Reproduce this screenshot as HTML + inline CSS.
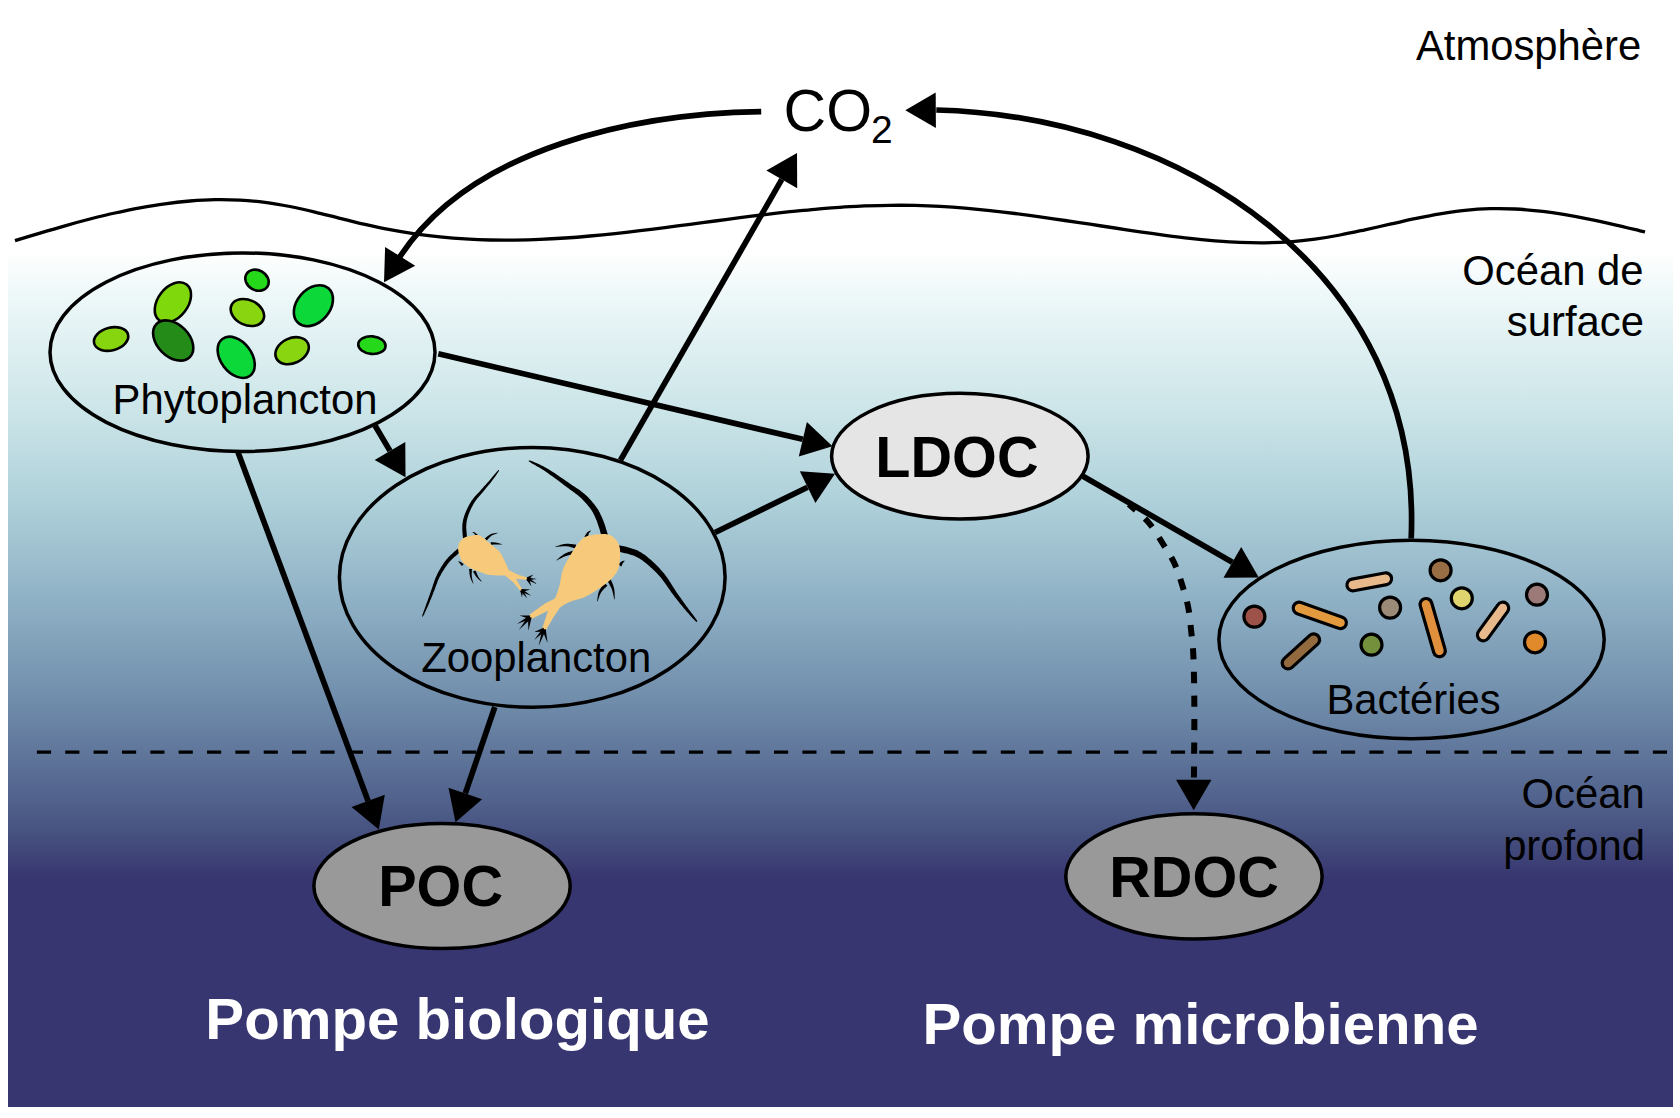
<!DOCTYPE html>
<html><head><meta charset="utf-8"><style>
html,body{margin:0;padding:0;background:#fff;}
svg{display:block;font-family:"Liberation Sans", sans-serif;}
</style></head><body>
<svg width="1680" height="1118" viewBox="0 0 1680 1118">
<defs><linearGradient id="g" x1="0" y1="250" x2="0" y2="878" gradientUnits="userSpaceOnUse"><stop offset="0.0000" stop-color="#ffffff"/><stop offset="0.0796" stop-color="#ecf7f8"/><stop offset="0.2389" stop-color="#cfe7ea"/><stop offset="0.3981" stop-color="#afd1da"/><stop offset="0.5573" stop-color="#8fb1c5"/><stop offset="0.7166" stop-color="#708dab"/><stop offset="0.8758" stop-color="#51628c"/><stop offset="0.9395" stop-color="#444e7d"/><stop offset="1.0000" stop-color="#383670"/></linearGradient></defs>
<rect x="8" y="240" width="1665" height="867" fill="url(#g)"/>
<path d="M15.0,240.7 C19.2,239.4 31.7,235.6 40.0,233.1 C48.3,230.6 56.7,228.1 65.0,225.8 C73.3,223.4 81.7,221.1 90.0,219.0 C98.3,216.9 106.7,214.8 115.0,213.0 C123.3,211.1 131.7,209.3 140.0,207.8 C148.3,206.3 156.7,204.9 165.0,203.8 C173.3,202.6 181.7,201.7 190.0,201.0 C198.3,200.4 206.7,199.9 215.0,199.7 C223.3,199.6 231.7,199.7 240.0,200.1 C248.3,200.5 256.7,201.3 265.0,202.3 C273.3,203.4 281.7,204.9 290.0,206.5 C298.3,208.1 306.7,210.1 315.0,212.1 C323.3,214.0 331.7,216.3 340.0,218.3 C348.3,220.4 356.7,222.5 365.0,224.4 C373.3,226.3 381.7,228.1 390.0,229.6 C398.3,231.2 406.7,232.6 415.0,233.8 C423.3,235.0 431.7,236.0 440.0,236.9 C448.3,237.7 456.7,238.4 465.0,238.9 C473.3,239.4 481.7,239.8 490.0,240.0 C498.3,240.2 506.7,240.2 515.0,240.1 C523.3,240.0 531.7,239.8 540.0,239.4 C548.3,239.1 556.7,238.6 565.0,238.0 C573.3,237.5 581.7,236.8 590.0,236.0 C598.3,235.3 606.7,234.5 615.0,233.6 C623.3,232.7 631.7,231.7 640.0,230.7 C648.3,229.7 656.7,228.7 665.0,227.6 C673.3,226.5 681.7,225.4 690.0,224.3 C698.3,223.2 706.7,222.1 715.0,221.0 C723.3,219.9 731.7,218.8 740.0,217.7 C748.3,216.6 756.7,215.6 765.0,214.6 C773.3,213.6 781.7,212.6 790.0,211.7 C798.3,210.9 806.7,210.0 815.0,209.3 C823.3,208.5 831.7,207.9 840.0,207.3 C848.3,206.7 856.7,206.3 865.0,205.9 C873.3,205.6 881.7,205.3 890.0,205.3 C898.3,205.2 906.7,205.2 915.0,205.4 C923.3,205.6 931.7,205.9 940.0,206.4 C948.3,206.9 956.7,207.5 965.0,208.2 C973.3,208.9 981.7,209.7 990.0,210.6 C998.3,211.5 1006.7,212.5 1015.0,213.5 C1023.3,214.6 1031.7,215.7 1040.0,216.8 C1048.3,218.0 1056.7,219.2 1065.0,220.5 C1073.3,221.7 1081.7,223.0 1090.0,224.2 C1098.3,225.5 1106.7,226.8 1115.0,228.0 C1123.3,229.3 1131.7,230.6 1140.0,231.8 C1148.3,233.0 1156.7,234.2 1165.0,235.3 C1173.3,236.4 1181.7,237.5 1190.0,238.4 C1198.3,239.4 1206.7,240.2 1215.0,240.9 C1223.3,241.5 1231.7,242.1 1240.0,242.4 C1248.3,242.7 1256.7,242.9 1265.0,242.8 C1273.3,242.7 1281.7,242.4 1290.0,241.8 C1298.3,241.2 1306.7,240.3 1315.0,239.2 C1323.3,238.0 1331.7,236.6 1340.0,235.0 C1348.3,233.5 1356.7,231.6 1365.0,229.8 C1373.3,228.0 1381.7,226.1 1390.0,224.2 C1398.3,222.4 1406.7,220.4 1415.0,218.7 C1423.3,217.0 1431.7,215.3 1440.0,213.9 C1448.3,212.6 1456.7,211.3 1465.0,210.4 C1473.3,209.5 1481.7,208.9 1490.0,208.7 C1498.3,208.5 1506.7,208.6 1515.0,209.0 C1523.3,209.4 1531.7,210.2 1540.0,211.1 C1548.3,212.0 1556.7,213.3 1565.0,214.6 C1573.3,216.0 1581.7,217.6 1590.0,219.3 C1598.3,221.0 1606.7,222.9 1615.0,224.8 C1623.3,226.7 1635.0,229.6 1640.0,230.8 C1645.0,232.0 1644.2,231.8 1645.0,232.0" stroke="#000" stroke-width="3.3" fill="none"/>
<line x1="36.9" y1="752.1" x2="1667.2" y2="752.1" stroke="#000" stroke-width="3.4" stroke-dasharray="14.17 14.18"/>
<ellipse cx="242.5" cy="352.15" rx="192.5" ry="99.25" stroke="#000" stroke-width="3.5" fill="none"/>
<ellipse cx="532.25" cy="577.35" rx="192.85" ry="129.95" stroke="#000" stroke-width="3.5" fill="none"/>
<ellipse cx="1411.55" cy="639.5" rx="192.65" ry="99.3" stroke="#000" stroke-width="3.5" fill="none"/>
<ellipse cx="959.85" cy="456.15" rx="128.25" ry="62.85" stroke="#000" stroke-width="3.5" fill="#e5e5e5"/>
<ellipse cx="442.05" cy="886.1" rx="128.15" ry="62.5" stroke="#000" stroke-width="3.5" fill="#999999"/>
<ellipse cx="1193.95" cy="876.4" rx="128.15" ry="62.6" stroke="#000" stroke-width="3.5" fill="#999999"/>
<ellipse cx="0" cy="0" rx="17.5" ry="11.3" transform="translate(111.1,339) rotate(-15)" fill="#86d50f" stroke="#000" stroke-width="2.6"/>
<ellipse cx="0" cy="0" rx="15" ry="22.5" transform="translate(172.9,302.4) rotate(37.5)" fill="#7fd80c" stroke="#000" stroke-width="2.6"/>
<ellipse cx="0" cy="0" rx="23.5" ry="16" transform="translate(173.2,340.5) rotate(45)" fill="#248b18" stroke="#000" stroke-width="2.6"/>
<ellipse cx="0" cy="0" rx="12.2" ry="10" transform="translate(257,280.2) rotate(30)" fill="#25d81a" stroke="#000" stroke-width="2.6"/>
<ellipse cx="0" cy="0" rx="17.5" ry="12.5" transform="translate(247.4,312.5) rotate(25)" fill="#89d510" stroke="#000" stroke-width="2.6"/>
<ellipse cx="0" cy="0" rx="16.5" ry="23" transform="translate(313.4,305.7) rotate(41)" fill="#0cd83a" stroke="#000" stroke-width="2.6"/>
<ellipse cx="0" cy="0" rx="15.5" ry="23" transform="translate(236.2,357.3) rotate(-37)" fill="#0cd83a" stroke="#000" stroke-width="2.6"/>
<ellipse cx="0" cy="0" rx="17.5" ry="12.5" transform="translate(292.1,350.7) rotate(-25)" fill="#89d510" stroke="#000" stroke-width="2.6"/>
<ellipse cx="0" cy="0" rx="13.7" ry="8.8" transform="translate(371.9,345.1) rotate(5)" fill="#25d81a" stroke="#000" stroke-width="2.6"/>
<path d="M1288.1,663 L1313.7,639.8" stroke="#000" stroke-width="15" stroke-linecap="round"/>
<path d="M1288.1,663 L1313.7,639.8" stroke="#926a3e" stroke-width="8.6" stroke-linecap="round"/>
<path d="M1299.1,608.1 L1340.5,622.7" stroke="#000" stroke-width="15" stroke-linecap="round"/>
<path d="M1299.1,608.1 L1340.5,622.7" stroke="#e39a3e" stroke-width="8.6" stroke-linecap="round"/>
<path d="M1352.8,584.9 L1385.7,578.8" stroke="#000" stroke-width="15" stroke-linecap="round"/>
<path d="M1352.8,584.9 L1385.7,578.8" stroke="#e8b98a" stroke-width="8.6" stroke-linecap="round"/>
<path d="M1426,604.4 L1439.4,650.8" stroke="#000" stroke-width="15" stroke-linecap="round"/>
<path d="M1426,604.4 L1439.4,650.8" stroke="#e0903c" stroke-width="8.6" stroke-linecap="round"/>
<path d="M1502.8,608.1 L1483.3,634.9" stroke="#000" stroke-width="15" stroke-linecap="round"/>
<path d="M1502.8,608.1 L1483.3,634.9" stroke="#e8b98a" stroke-width="8.6" stroke-linecap="round"/>
<circle cx="1254.4" cy="616.6" r="10.5" fill="#9c5248" stroke="#000" stroke-width="3.2"/>
<circle cx="1371.5" cy="644.7" r="10.5" fill="#74903c" stroke="#000" stroke-width="3.2"/>
<circle cx="1390.1" cy="607.6" r="10.5" fill="#9c8a78" stroke="#000" stroke-width="3.2"/>
<circle cx="1440.6" cy="570.3" r="10.5" fill="#9a6e44" stroke="#000" stroke-width="3.2"/>
<circle cx="1461.8" cy="598.3" r="10.5" fill="#e0d46e" stroke="#000" stroke-width="3.2"/>
<circle cx="1537" cy="594.7" r="10.5" fill="#9c7a78" stroke="#000" stroke-width="3.2"/>
<circle cx="1535" cy="642.3" r="10.5" fill="#e08a2c" stroke="#000" stroke-width="3.2"/>
<path d="M438.3,353.8 L802.8,439.3" stroke="#000" stroke-width="5.7" fill="none"/><path d="M832.5,446.3 L798.8,456.6 L806.9,422.1Z" fill="#000"/>
<path d="M375.0,425.5 L390.0,450.9" stroke="#000" stroke-width="5.7" fill="none"/><path d="M405.5,477.2 L374.7,459.9 L405.3,441.9Z" fill="#000"/>
<path d="M620.5,460.2 L781.8,179.4" stroke="#000" stroke-width="5.7" fill="none"/><path d="M797.0,153.0 L797.2,188.3 L766.4,170.6Z" fill="#000"/>
<path d="M715.0,532.5 L807.6,487.2" stroke="#000" stroke-width="5.7" fill="none"/><path d="M835.0,473.8 L815.4,503.1 L799.8,471.3Z" fill="#000"/>
<path d="M494.8,707.0 L465.3,793.4" stroke="#000" stroke-width="5.7" fill="none"/><path d="M455.5,822.3 L448.5,787.7 L482.1,799.2Z" fill="#000"/>
<path d="M238.0,452.2 L368.1,800.9" stroke="#000" stroke-width="5.7" fill="none"/><path d="M378.8,829.5 L351.5,807.1 L384.8,794.7Z" fill="#000"/>
<path d="M1083.0,476.2 L1232.4,562.3" stroke="#000" stroke-width="5.7" fill="none"/><path d="M1258.8,577.5 L1223.5,577.7 L1241.2,546.9Z" fill="#000"/>
<path d="M761.2,111.6 C637.9,113.4 472.3,146.3 399.8,256.9" stroke="#000" stroke-width="5.7" fill="none"/>
<path d="M384.0,282.2 L385.1,246.9 L415.2,265.7Z" fill="#000"/>
<path d="M1411.2,538.5 C1422.8,269.3 1178.6,116.1 936.3,110" stroke="#000" stroke-width="5.7" fill="none"/>
<path d="M905.3,110.3 L935.7,92.4 L935.9,127.9Z" fill="#000"/>
<path d="M1193.9,780.0 C1194.0,772.1 1194.2,746.1 1194.3,732.6 C1194.4,719.1 1194.4,711.8 1194.3,699.1 C1194.2,686.4 1193.9,667.6 1193.4,656.5 C1192.9,645.4 1192.2,640.3 1191.3,632.2 C1190.4,624.1 1189.8,615.7 1188.3,607.8 C1186.8,599.9 1184.5,592.4 1182.2,585.0 C1179.9,577.6 1177.6,570.3 1174.6,563.7 C1171.5,557.1 1168.2,552.2 1163.9,545.4 C1159.6,538.5 1154.5,529.5 1148.7,522.6 C1142.9,515.8 1132.2,507.4 1128.9,504.3" stroke="#000" stroke-width="6" fill="none" stroke-dasharray="11.3 12.25" stroke-dashoffset="20.95"/>
<path d="M1193.7,810.2 L1176.0,779.7 L1211.5,779.7Z" fill="#000"/>
<path d="M467.2,538.3 L467.1,537.7 L467.1,536.9 L466.9,535.9 L466.8,534.9 L466.7,533.8 L466.6,532.6 L466.5,531.4 L466.4,530.1 L466.3,528.9 L466.2,527.8 L466.2,526.7 L466.3,525.7 L466.3,524.8 L466.4,523.9 L466.5,523.0 L466.6,522.1 L466.7,521.2 L466.9,520.4 L467.1,519.5 L467.3,518.7 L467.5,517.8 L467.8,516.9 L468.1,516.0 L468.4,515.0 L468.8,514.0 L469.2,513.0 L469.6,511.9 L470.1,510.8 L470.6,509.7 L471.1,508.6 L471.6,507.5 L472.2,506.4 L472.8,505.4 L473.3,504.3 L473.9,503.3 L474.5,502.4 L475.0,501.5 L475.6,500.7 L476.2,499.9 L476.8,499.1 L477.5,498.3 L478.1,497.6 L478.8,496.8 L479.4,496.0 L480.1,495.3 L480.8,494.4 L481.6,493.6 L482.3,492.7 L483.0,491.8 L483.8,490.9 L484.6,490.0 L485.4,489.0 L486.2,488.1 L487.0,487.1 L487.8,486.1 L488.6,485.1 L489.4,484.2 L490.2,483.2 L490.9,482.2 L491.7,481.3 L492.4,480.3 L493.1,479.3 L493.9,478.3 L494.7,477.2 L495.4,476.2 L496.1,475.2 L496.8,474.2 L497.4,473.2 L498.0,472.4 L498.5,471.6 L498.9,470.9 L499.1,470.3 L498.7,469.9 L498.1,470.3 L497.6,470.9 L496.9,471.6 L496.3,472.4 L495.5,473.2 L494.8,474.1 L494.0,475.1 L493.2,476.1 L492.3,477.1 L491.5,478.0 L490.7,479.0 L489.9,479.9 L489.2,480.8 L488.4,481.7 L487.6,482.6 L486.7,483.5 L485.9,484.5 L485.0,485.4 L484.2,486.3 L483.3,487.3 L482.5,488.2 L481.7,489.1 L480.9,490.0 L480.1,490.9 L479.4,491.7 L478.7,492.5 L477.9,493.3 L477.2,494.0 L476.5,494.8 L475.8,495.5 L475.1,496.3 L474.4,497.1 L473.7,497.9 L473.1,498.8 L472.4,499.7 L471.7,500.6 L471.1,501.6 L470.5,502.6 L469.8,503.7 L469.2,504.8 L468.6,505.9 L468.0,507.1 L467.4,508.2 L466.9,509.4 L466.3,510.5 L465.9,511.6 L465.4,512.7 L465.0,513.8 L464.6,514.8 L464.3,515.8 L464.0,516.8 L463.7,517.7 L463.4,518.7 L463.2,519.6 L463.0,520.6 L462.8,521.5 L462.7,522.5 L462.5,523.4 L462.4,524.4 L462.3,525.5 L462.3,526.6 L462.3,527.8 L462.3,529.1 L462.3,530.4 L462.4,531.7 L462.5,532.9 L462.6,534.1 L462.7,535.3 L462.8,536.4 L462.9,537.3 L463.0,538.1 L463.0,538.7Z" fill="#000"/>
<path d="M458.1,548.4 L457.7,548.8 L457.2,549.2 L456.5,549.8 L455.8,550.4 L455.0,551.1 L454.1,551.8 L453.3,552.6 L452.4,553.4 L451.5,554.2 L450.7,554.9 L449.9,555.7 L449.2,556.4 L448.5,557.1 L447.9,557.8 L447.4,558.4 L446.8,559.1 L446.2,559.8 L445.7,560.4 L445.2,561.1 L444.7,561.8 L444.1,562.5 L443.6,563.3 L443.1,564.1 L442.6,564.9 L442.0,565.7 L441.5,566.6 L440.9,567.5 L440.4,568.4 L439.8,569.4 L439.3,570.3 L438.7,571.3 L438.2,572.3 L437.7,573.3 L437.2,574.3 L436.7,575.4 L436.2,576.4 L435.7,577.5 L435.3,578.5 L434.9,579.6 L434.5,580.7 L434.1,581.8 L433.7,582.9 L433.4,584.0 L433.0,585.1 L432.6,586.2 L432.3,587.3 L431.9,588.4 L431.5,589.5 L431.2,590.6 L430.8,591.6 L430.4,592.7 L430.0,593.8 L429.6,594.9 L429.3,595.9 L428.9,597.0 L428.5,598.1 L428.1,599.2 L427.7,600.3 L427.3,601.4 L426.9,602.5 L426.5,603.6 L426.0,604.9 L425.6,606.2 L425.1,607.5 L424.6,608.9 L424.1,610.2 L423.6,611.5 L423.2,612.7 L422.8,613.9 L422.4,614.9 L422.2,615.7 L422.1,616.5 L422.7,616.7 L423.2,616.1 L423.6,615.3 L424.1,614.4 L424.6,613.3 L425.1,612.1 L425.7,610.9 L426.3,609.6 L426.9,608.3 L427.5,607.0 L428.0,605.7 L428.6,604.5 L429.1,603.3 L429.5,602.2 L430.0,601.1 L430.4,600.1 L430.9,599.0 L431.3,597.9 L431.7,596.9 L432.2,595.8 L432.6,594.7 L433.0,593.7 L433.4,592.6 L433.8,591.6 L434.3,590.5 L434.7,589.4 L435.1,588.3 L435.5,587.2 L435.9,586.1 L436.3,585.0 L436.7,584.0 L437.1,582.9 L437.5,581.8 L437.9,580.8 L438.3,579.8 L438.8,578.8 L439.2,577.8 L439.7,576.8 L440.2,575.9 L440.7,574.9 L441.2,574.0 L441.8,573.0 L442.3,572.1 L442.9,571.2 L443.4,570.3 L444.0,569.4 L444.5,568.5 L445.1,567.7 L445.6,566.9 L446.2,566.2 L446.7,565.4 L447.2,564.8 L447.7,564.1 L448.2,563.5 L448.7,562.8 L449.2,562.2 L449.7,561.6 L450.3,561.0 L450.8,560.4 L451.4,559.8 L452.0,559.2 L452.7,558.5 L453.4,557.9 L454.2,557.1 L455.0,556.4 L455.9,555.7 L456.8,555.0 L457.6,554.3 L458.4,553.6 L459.2,553.0 L459.8,552.4 L460.4,552.0 L460.9,551.6Z" fill="#000"/>
<path d="M608.0,535.0 L607.7,534.4 L607.5,533.5 L607.2,532.5 L606.8,531.3 L606.4,530.0 L606.0,528.7 L605.6,527.3 L605.1,525.8 L604.7,524.4 L604.2,523.0 L603.7,521.7 L603.2,520.5 L602.7,519.3 L602.3,518.2 L601.8,517.1 L601.3,516.1 L600.8,515.0 L600.3,513.9 L599.8,512.8 L599.2,511.7 L598.6,510.6 L598.0,509.6 L597.3,508.5 L596.5,507.4 L595.7,506.3 L594.9,505.2 L594.1,504.1 L593.2,503.0 L592.3,501.9 L591.3,500.8 L590.4,499.7 L589.4,498.7 L588.3,497.6 L587.3,496.6 L586.2,495.5 L585.1,494.5 L584.0,493.6 L582.9,492.7 L581.8,491.8 L580.7,490.9 L579.6,490.1 L578.4,489.3 L577.2,488.5 L576.0,487.7 L574.7,486.8 L573.3,485.9 L571.9,484.9 L570.4,483.9 L568.7,482.7 L566.9,481.5 L565.0,480.2 L563.0,478.8 L560.9,477.4 L558.8,476.0 L556.6,474.5 L554.5,473.1 L552.4,471.8 L550.4,470.5 L548.5,469.3 L546.7,468.3 L544.9,467.3 L543.2,466.3 L541.4,465.4 L539.7,464.6 L538.0,463.8 L536.4,463.1 L534.9,462.4 L533.4,461.8 L532.1,461.3 L530.9,460.8 L529.9,460.5 L529.0,460.4 L528.6,461.0 L529.3,461.7 L530.2,462.3 L531.3,463.0 L532.5,463.7 L533.9,464.5 L535.3,465.3 L536.8,466.2 L538.4,467.1 L540.0,468.0 L541.6,469.0 L543.3,470.1 L544.9,471.1 L546.6,472.3 L548.4,473.5 L550.3,474.9 L552.3,476.3 L554.3,477.8 L556.4,479.3 L558.4,480.8 L560.4,482.3 L562.4,483.8 L564.2,485.2 L566.0,486.5 L567.6,487.7 L569.1,488.8 L570.5,489.9 L571.9,490.8 L573.1,491.7 L574.3,492.6 L575.4,493.4 L576.5,494.2 L577.6,495.1 L578.6,495.9 L579.5,496.7 L580.5,497.6 L581.5,498.5 L582.5,499.4 L583.4,500.4 L584.4,501.4 L585.3,502.4 L586.2,503.4 L587.1,504.5 L587.9,505.5 L588.7,506.5 L589.5,507.6 L590.3,508.6 L591.0,509.6 L591.7,510.6 L592.3,511.6 L592.9,512.6 L593.4,513.6 L593.9,514.5 L594.4,515.5 L594.9,516.5 L595.3,517.5 L595.7,518.5 L596.1,519.5 L596.6,520.6 L597.0,521.6 L597.4,522.7 L597.8,523.9 L598.2,525.1 L598.6,526.4 L599.1,527.8 L599.5,529.1 L599.9,530.5 L600.2,531.8 L600.6,533.1 L600.9,534.3 L601.2,535.3 L601.4,536.2 L601.6,537.0Z" fill="#000"/>
<path d="M617.7,551.6 L618.6,551.8 L619.6,552.0 L620.9,552.3 L622.3,552.6 L623.8,552.9 L625.3,553.3 L626.9,553.6 L628.5,554.0 L630.0,554.4 L631.5,554.9 L632.8,555.3 L634.0,555.7 L635.1,556.2 L636.1,556.7 L637.1,557.2 L638.1,557.7 L639.0,558.3 L639.9,558.8 L640.9,559.4 L641.8,560.1 L642.8,560.8 L643.7,561.5 L644.8,562.3 L645.9,563.2 L647.0,564.1 L648.1,565.1 L649.3,566.1 L650.5,567.2 L651.8,568.3 L653.0,569.4 L654.2,570.6 L655.4,571.8 L656.7,573.1 L657.8,574.3 L659.0,575.6 L660.1,576.8 L661.2,578.1 L662.3,579.5 L663.4,580.9 L664.5,582.4 L665.6,583.9 L666.6,585.4 L667.7,587.0 L668.7,588.5 L669.8,590.0 L670.8,591.5 L671.8,593.0 L672.9,594.3 L673.8,595.6 L674.8,596.9 L675.7,598.1 L676.7,599.3 L677.6,600.5 L678.5,601.6 L679.4,602.8 L680.3,603.9 L681.2,605.0 L682.1,606.1 L683.0,607.3 L684.0,608.4 L685.0,609.6 L686.1,610.9 L687.3,612.3 L688.5,613.6 L689.7,614.9 L690.8,616.2 L692.0,617.5 L693.1,618.7 L694.1,619.7 L695.1,620.7 L695.9,621.4 L696.7,621.9 L697.3,621.5 L697.0,620.6 L696.4,619.6 L695.6,618.5 L694.8,617.3 L693.8,616.0 L692.8,614.6 L691.7,613.2 L690.7,611.8 L689.6,610.4 L688.5,609.0 L687.5,607.6 L686.6,606.4 L685.7,605.2 L684.9,604.0 L684.0,602.8 L683.2,601.7 L682.4,600.5 L681.5,599.3 L680.7,598.1 L679.9,597.0 L679.0,595.7 L678.1,594.5 L677.3,593.2 L676.3,591.9 L675.4,590.5 L674.5,589.0 L673.5,587.5 L672.5,586.0 L671.6,584.4 L670.5,582.8 L669.5,581.2 L668.5,579.6 L667.4,578.1 L666.3,576.5 L665.2,575.0 L664.1,573.6 L662.9,572.2 L661.7,570.8 L660.5,569.4 L659.3,568.1 L658.1,566.8 L656.8,565.5 L655.6,564.3 L654.3,563.1 L653.1,561.9 L651.9,560.8 L650.7,559.8 L649.5,558.8 L648.4,557.9 L647.4,557.0 L646.3,556.1 L645.3,555.3 L644.3,554.6 L643.2,553.9 L642.2,553.2 L641.1,552.5 L640.0,551.9 L638.9,551.2 L637.7,550.6 L636.4,550.1 L635.0,549.5 L633.4,548.9 L631.8,548.4 L630.2,547.9 L628.5,547.5 L626.8,547.0 L625.2,546.6 L623.7,546.3 L622.3,545.9 L621.1,545.7 L620.1,545.4 L619.3,545.2Z" fill="#000"/>
<path d="M479.1,536.1 L478.9,536.0 L478.7,535.8 L478.4,535.5 L478.2,535.2 L477.8,535.0 L477.5,534.6 L477.2,534.3 L476.8,534.0 L476.5,533.7 L476.1,533.4 L475.8,533.2 L475.5,533.0 L475.2,532.8 L474.9,532.6 L474.6,532.5 L474.3,532.3 L474.0,532.2 L473.8,532.1 L473.5,532.1 L473.3,532.0 L473.1,532.0 L472.9,531.9 L472.7,531.9 L472.6,531.9 L472.4,532.1 L472.5,532.2 L472.7,532.4 L472.8,532.5 L473.0,532.6 L473.2,532.8 L473.4,532.9 L473.6,533.1 L473.8,533.3 L474.0,533.4 L474.2,533.6 L474.3,533.8 L474.5,534.0 L474.7,534.3 L474.9,534.6 L475.1,534.9 L475.3,535.3 L475.6,535.7 L475.8,536.0 L476.0,536.4 L476.2,536.8 L476.4,537.1 L476.6,537.4 L476.8,537.7 L476.9,537.9Z" fill="#000"/>
<path d="M486.7,540.5 L487.0,540.3 L487.3,539.9 L487.6,539.6 L488.0,539.1 L488.4,538.7 L488.8,538.2 L489.2,537.8 L489.7,537.3 L490.1,536.9 L490.6,536.4 L491.0,536.1 L491.4,535.8 L491.9,535.5 L492.4,535.2 L492.9,534.9 L493.5,534.7 L494.2,534.4 L494.8,534.2 L495.4,534.0 L495.9,533.7 L496.5,533.5 L496.9,533.4 L497.3,533.2 L497.6,533.0 L497.6,532.8 L497.2,532.8 L496.8,532.8 L496.3,532.9 L495.7,533.0 L495.1,533.1 L494.5,533.2 L493.8,533.3 L493.1,533.4 L492.5,533.6 L491.8,533.8 L491.2,534.0 L490.6,534.2 L490.0,534.5 L489.4,534.9 L488.8,535.3 L488.3,535.7 L487.7,536.1 L487.2,536.5 L486.7,536.9 L486.2,537.3 L485.8,537.7 L485.4,538.0 L485.1,538.3 L484.9,538.5Z" fill="#000"/>
<path d="M490.8,544.9 L491.1,544.9 L491.4,544.8 L491.8,544.8 L492.2,544.7 L492.6,544.7 L493.1,544.6 L493.5,544.6 L494.0,544.5 L494.5,544.5 L495.0,544.5 L495.5,544.4 L495.9,544.4 L496.4,544.4 L496.9,544.4 L497.5,544.4 L498.0,544.4 L498.6,544.4 L499.2,544.4 L499.8,544.5 L500.3,544.5 L500.8,544.5 L501.2,544.5 L501.6,544.5 L501.9,544.4 L501.9,544.2 L501.6,544.0 L501.3,543.9 L500.9,543.8 L500.4,543.7 L499.9,543.5 L499.4,543.4 L498.8,543.2 L498.2,543.1 L497.7,542.9 L497.1,542.8 L496.6,542.7 L496.1,542.6 L495.6,542.5 L495.1,542.5 L494.5,542.4 L494.0,542.3 L493.5,542.3 L493.0,542.3 L492.5,542.2 L492.1,542.2 L491.7,542.2 L491.3,542.1 L491.0,542.1 L490.8,542.1Z" fill="#000"/>
<path d="M463.8,564.1 L463.7,564.0 L463.5,563.8 L463.2,563.7 L462.9,563.5 L462.6,563.3 L462.3,563.1 L462.0,562.9 L461.6,562.6 L461.3,562.4 L461.0,562.3 L460.7,562.1 L460.4,562.0 L460.2,561.8 L459.9,561.7 L459.7,561.7 L459.5,561.6 L459.3,561.5 L459.1,561.5 L458.9,561.4 L458.8,561.4 L458.6,561.4 L458.5,561.4 L458.4,561.4 L458.3,561.4 L458.1,561.6 L458.2,561.7 L458.3,561.8 L458.4,561.9 L458.5,562.0 L458.6,562.1 L458.7,562.2 L458.9,562.3 L459.0,562.4 L459.2,562.6 L459.3,562.7 L459.4,562.9 L459.6,563.0 L459.7,563.2 L459.9,563.5 L460.1,563.8 L460.4,564.0 L460.6,564.4 L460.8,564.7 L461.1,565.0 L461.3,565.3 L461.5,565.5 L461.7,565.8 L461.8,566.0 L462.0,566.1Z" fill="#000"/>
<path d="M469.1,569.1 L469.1,569.4 L469.2,569.9 L469.2,570.5 L469.3,571.2 L469.4,571.9 L469.5,572.6 L469.5,573.4 L469.6,574.2 L469.7,575.0 L469.9,575.8 L470.0,576.5 L470.2,577.2 L470.4,577.8 L470.6,578.5 L470.9,579.1 L471.1,579.8 L471.4,580.4 L471.7,581.0 L472.0,581.6 L472.3,582.2 L472.5,582.6 L472.8,583.1 L473.0,583.5 L473.2,583.8 L473.4,583.6 L473.4,583.3 L473.3,582.9 L473.1,582.4 L473.0,581.9 L472.8,581.3 L472.6,580.7 L472.5,580.0 L472.3,579.4 L472.1,578.7 L472.0,578.1 L471.9,577.4 L471.8,576.8 L471.8,576.2 L471.7,575.5 L471.7,574.8 L471.7,574.1 L471.7,573.3 L471.8,572.5 L471.8,571.8 L471.8,571.1 L471.8,570.4 L471.9,569.8 L471.9,569.3 L471.9,568.9Z" fill="#000"/>
<path d="M473.1,571.6 L473.2,571.9 L473.4,572.3 L473.7,572.7 L474.0,573.2 L474.3,573.7 L474.6,574.2 L475.0,574.8 L475.3,575.4 L475.7,575.9 L476.1,576.5 L476.4,577.0 L476.8,577.5 L477.2,577.9 L477.6,578.3 L478.0,578.8 L478.5,579.2 L478.9,579.6 L479.3,580.0 L479.8,580.3 L480.2,580.7 L480.5,581.0 L480.9,581.2 L481.2,581.4 L481.4,581.6 L481.6,581.4 L481.5,581.1 L481.2,580.8 L481.0,580.5 L480.7,580.1 L480.4,579.7 L480.1,579.3 L479.7,578.8 L479.4,578.4 L479.1,577.9 L478.7,577.4 L478.4,577.0 L478.2,576.5 L477.9,576.1 L477.7,575.5 L477.4,575.0 L477.2,574.4 L476.9,573.8 L476.7,573.2 L476.4,572.6 L476.2,572.1 L476.0,571.5 L475.8,571.1 L475.7,570.7 L475.5,570.4Z" fill="#000"/>
<path d="M587.8,538.7 L587.8,538.4 L587.9,538.0 L588.0,537.6 L588.1,537.1 L588.1,536.7 L588.2,536.2 L588.3,535.6 L588.4,535.1 L588.5,534.7 L588.6,534.2 L588.7,533.9 L588.8,533.6 L588.9,533.3 L589.1,533.0 L589.3,532.8 L589.5,532.5 L589.7,532.3 L589.9,532.0 L590.1,531.8 L590.3,531.6 L590.5,531.4 L590.7,531.2 L590.9,531.0 L591.0,530.8 L590.8,530.6 L590.6,530.6 L590.4,530.7 L590.2,530.7 L589.9,530.8 L589.6,530.9 L589.3,531.1 L588.9,531.2 L588.6,531.4 L588.2,531.6 L587.8,531.8 L587.5,532.1 L587.2,532.4 L586.9,532.8 L586.6,533.2 L586.3,533.7 L586.0,534.2 L585.7,534.6 L585.4,535.1 L585.1,535.6 L584.9,536.1 L584.7,536.5 L584.5,536.8 L584.3,537.1 L584.2,537.3Z" fill="#000"/>
<path d="M576.1,544.6 L575.7,544.6 L575.1,544.5 L574.4,544.4 L573.6,544.3 L572.8,544.2 L571.9,544.1 L570.9,544.0 L569.9,543.9 L568.9,543.8 L567.9,543.8 L566.9,543.8 L566.0,543.8 L565.0,543.9 L564.0,544.1 L563.0,544.3 L562.0,544.6 L561.0,544.8 L560.0,545.1 L559.0,545.4 L558.1,545.7 L557.2,546.0 L556.5,546.2 L555.9,546.5 L555.4,546.7 L555.4,546.9 L556.0,546.9 L556.6,546.9 L557.4,546.8 L558.3,546.7 L559.2,546.6 L560.2,546.5 L561.2,546.4 L562.3,546.3 L563.3,546.2 L564.3,546.2 L565.2,546.2 L566.0,546.2 L566.8,546.3 L567.7,546.4 L568.6,546.6 L569.5,546.8 L570.4,547.0 L571.3,547.2 L572.1,547.4 L572.9,547.7 L573.7,547.9 L574.4,548.1 L575.0,548.3 L575.5,548.4Z" fill="#000"/>
<path d="M572.6,550.7 L572.2,550.8 L571.8,551.0 L571.2,551.2 L570.6,551.4 L569.9,551.6 L569.2,551.9 L568.4,552.1 L567.6,552.4 L566.8,552.8 L566.0,553.1 L565.2,553.5 L564.5,553.9 L563.7,554.3 L563.0,554.8 L562.2,555.4 L561.4,556.0 L560.6,556.6 L559.9,557.2 L559.1,557.8 L558.4,558.4 L557.8,558.9 L557.2,559.4 L556.8,559.8 L556.4,560.2 L556.6,560.4 L557.0,560.2 L557.6,560.0 L558.3,559.6 L559.0,559.3 L559.8,558.8 L560.6,558.4 L561.5,558.0 L562.4,557.5 L563.2,557.1 L564.0,556.7 L564.8,556.4 L565.5,556.1 L566.2,555.9 L566.9,555.7 L567.7,555.5 L568.5,555.3 L569.2,555.1 L570.0,555.0 L570.7,554.8 L571.4,554.7 L572.1,554.6 L572.7,554.5 L573.2,554.4 L573.6,554.3Z" fill="#000"/>
<path d="M621.4,566.6 L621.4,566.4 L621.5,566.2 L621.7,565.9 L621.8,565.6 L621.9,565.3 L622.0,565.0 L622.1,564.7 L622.3,564.3 L622.4,564.0 L622.5,563.8 L622.6,563.5 L622.8,563.3 L622.9,563.1 L623.0,562.9 L623.2,562.7 L623.4,562.4 L623.6,562.2 L623.8,562.0 L624.0,561.8 L624.2,561.6 L624.4,561.4 L624.5,561.2 L624.7,561.1 L624.8,560.9 L624.6,560.7 L624.5,560.7 L624.3,560.7 L624.0,560.7 L623.8,560.8 L623.5,560.8 L623.2,560.9 L622.9,561.0 L622.5,561.1 L622.2,561.2 L621.9,561.4 L621.6,561.5 L621.2,561.7 L620.9,561.9 L620.6,562.2 L620.3,562.4 L620.0,562.7 L619.7,563.0 L619.4,563.2 L619.2,563.5 L618.9,563.7 L618.7,564.0 L618.5,564.2 L618.4,564.3 L618.2,564.4Z" fill="#000"/>
<path d="M604.4,583.2 L604.2,583.6 L603.8,584.0 L603.4,584.5 L603.0,585.2 L602.4,585.8 L601.9,586.6 L601.4,587.3 L600.8,588.1 L600.3,589.0 L599.8,589.8 L599.3,590.6 L599.0,591.5 L598.6,592.3 L598.4,593.2 L598.1,594.2 L597.9,595.2 L597.8,596.2 L597.6,597.1 L597.5,598.0 L597.4,598.9 L597.3,599.7 L597.2,600.5 L597.2,601.1 L597.2,601.6 L597.4,601.6 L597.7,601.2 L597.9,600.6 L598.1,599.9 L598.4,599.1 L598.6,598.3 L598.9,597.4 L599.3,596.5 L599.6,595.6 L599.9,594.8 L600.3,593.9 L600.7,593.2 L601.0,592.5 L601.5,591.9 L602.0,591.3 L602.5,590.6 L603.1,589.9 L603.7,589.3 L604.3,588.6 L604.9,588.0 L605.5,587.4 L606.1,586.9 L606.6,586.4 L607.0,586.0 L607.4,585.6Z" fill="#000"/>
<path d="M607.4,580.9 L607.6,581.3 L607.9,581.9 L608.3,582.5 L608.7,583.1 L609.1,583.8 L609.5,584.6 L610.0,585.4 L610.4,586.2 L610.8,587.0 L611.2,587.8 L611.6,588.6 L611.9,589.3 L612.1,590.1 L612.4,591.0 L612.6,591.9 L612.9,592.9 L613.1,593.9 L613.3,594.8 L613.5,595.8 L613.7,596.7 L613.9,597.5 L614.0,598.3 L614.2,598.9 L614.4,599.4 L614.6,599.4 L614.7,598.9 L614.7,598.2 L614.7,597.5 L614.7,596.6 L614.7,595.7 L614.7,594.7 L614.6,593.7 L614.6,592.6 L614.5,591.6 L614.4,590.6 L614.3,589.6 L614.1,588.7 L613.9,587.8 L613.7,586.9 L613.4,585.9 L613.1,585.0 L612.7,584.1 L612.4,583.2 L612.1,582.4 L611.7,581.6 L611.4,580.9 L611.2,580.2 L611.0,579.7 L610.8,579.3Z" fill="#000"/>
<path d="M505.0,575.5 C502.5,575.4 494.5,575.8 490.1,575.1 C485.7,574.4 482.3,572.9 478.6,571.5 C474.9,570.1 470.8,568.4 467.9,566.5 C465.0,564.6 463.0,562.9 461.4,560.1 C459.8,557.4 458.5,552.9 458.2,550.0 C457.9,547.1 458.4,544.9 459.3,542.9 C460.2,540.9 461.7,539.1 463.6,537.9 C465.5,536.7 468.3,536.2 470.7,535.7 C473.1,535.2 476.0,534.8 477.9,535.0 C479.8,535.2 480.3,535.9 482.2,537.2 C484.1,538.5 486.6,540.6 489.3,542.9 C492.0,545.2 496.3,548.4 498.6,550.8 C500.9,553.2 501.7,555.1 502.9,557.2 C504.1,559.3 504.9,561.5 505.8,563.6 C506.8,565.7 508.1,568.9 508.6,570.0 L518.6,575.0 L527.5,577.5 L527.5,580.0 L516.0,578.8 L522.5,590.0 L520.5,591.0 L513.0,582.0Z" fill="#f6ca7a"/>
<path d="M552.0,600.0 C552.6,599.5 554.1,599.9 555.4,597.3 C556.7,594.7 558.5,589.0 559.7,584.4 C561.0,579.8 560.9,574.6 562.9,569.4 C564.9,564.2 569.0,557.6 571.5,553.3 C574.0,549.0 575.9,546.3 578.0,543.6 C580.1,540.9 581.5,538.7 584.4,537.2 C587.2,535.7 591.2,535.0 595.1,534.5 C599.0,534.0 604.6,533.7 608.0,534.5 C611.4,535.3 613.5,537.1 615.5,539.3 C617.5,541.5 619.1,544.3 619.8,547.9 C620.5,551.5 620.1,557.0 619.8,560.8 C619.4,564.6 619.3,567.3 617.7,570.5 C616.1,573.7 613.6,576.9 610.2,580.1 C606.8,583.3 601.6,586.9 597.3,589.8 C593.0,592.7 589.0,595.2 584.4,597.3 C579.8,599.3 573.5,600.4 569.4,602.1 C565.3,603.8 561.6,606.7 560.0,607.6 L553.0,618.0 L545.8,630.4 L542.2,628.6 L548.0,610.7 L531.0,619.2 L529.2,614.8 L545.0,603.5Z" fill="#f6ca7a"/>
<path d="M528.4,580.0 L533.3,574.6 L526.6,577.6Z" fill="#000"/><path d="M527.4,580.2 L536.8,579.1 L527.6,577.4Z" fill="#000"/><path d="M526.8,580.1 L537.1,584.1 L528.2,577.5Z" fill="#000"/><path d="M526.2,579.5 L531.5,586.6 L528.8,578.1Z" fill="#000"/>
<path d="M521.8,591.9 L530.5,589.4 L521.4,589.1Z" fill="#000"/><path d="M520.9,591.8 L531.2,595.8 L522.3,589.2Z" fill="#000"/><path d="M520.4,591.3 L527.3,598.6 L522.8,589.7Z" fill="#000"/><path d="M520.2,590.6 L522.0,597.5 L523.0,590.4Z" fill="#000"/>
<path d="M530.1,615.5 L519.5,615.5 L529.5,619.1Z" fill="#000"/><path d="M529.0,615.7 L516.9,623.9 L530.6,618.9Z" fill="#000"/><path d="M528.4,616.1 L518.8,630.0 L531.2,618.5Z" fill="#000"/><path d="M528.0,617.1 L528.4,630.7 L531.6,617.5Z" fill="#000"/>
<path d="M543.6,627.8 L534.1,631.9 L544.4,631.4Z" fill="#000"/><path d="M542.7,628.4 L534.2,640.1 L545.3,630.8Z" fill="#000"/><path d="M542.3,629.0 L538.7,645.8 L545.7,630.2Z" fill="#000"/><path d="M542.3,630.1 L547.6,642.9 L545.7,629.1Z" fill="#000"/>
<text x="1415.9" y="60.4" font-size="41.8" font-weight="normal" fill="#000" text-anchor="start">Atmosphère</text>
<text x="1643.5" y="285" font-size="41.8" font-weight="normal" fill="#000" text-anchor="end">Océan de</text>
<text x="1643.9" y="336.4" font-size="41.8" font-weight="normal" fill="#000" text-anchor="end">surface</text>
<text x="1644.7" y="808.1" font-size="41.8" font-weight="normal" fill="#000" text-anchor="end">Océan</text>
<text x="1644.9" y="859.5" font-size="41.8" font-weight="normal" fill="#000" text-anchor="end">profond</text>
<text x="245" y="413.8" font-size="41.8" font-weight="normal" fill="#000" text-anchor="middle">Phytoplancton</text>
<text x="536.2" y="672.2" font-size="41.8" font-weight="normal" fill="#000" text-anchor="middle">Zooplancton</text>
<text x="1413.5" y="714" font-size="41.8" font-weight="normal" fill="#000" text-anchor="middle">Bactéries</text>
<text x="783.55" y="131.4" font-size="59" font-weight="normal" fill="#000" text-anchor="start">CO</text>
<text x="871.05" y="142.5" font-size="39" font-weight="normal" fill="#000" text-anchor="start">2</text>
<text x="956.9" y="476.5" font-size="57.6" font-weight="bold" fill="#000" text-anchor="middle">LDOC</text>
<text x="440.6" y="906.2" font-size="57.6" font-weight="bold" fill="#000" text-anchor="middle">POC</text>
<text x="1194" y="897.2" font-size="57.6" font-weight="bold" fill="#000" text-anchor="middle">RDOC</text>
<text x="457.5" y="1039" font-size="58.2" font-weight="bold" fill="#fff" text-anchor="middle">Pompe biologique</text>
<text x="1200.5" y="1044.2" font-size="58.2" font-weight="bold" fill="#fff" text-anchor="middle">Pompe microbienne</text>
</svg>
</body></html>
